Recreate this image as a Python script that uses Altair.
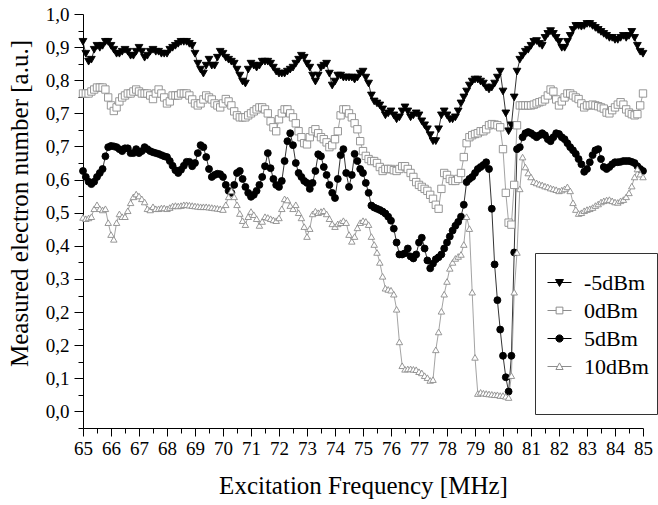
import altair as alt
import pandas as pd

FONT = "Liberation Serif"

SERIES = ["-5dBm", "0dBm", "5dBm", "10dBm"]
STROKES = ["#000000", "#8c8c8c", "#000000", "#8c8c8c"]
FILLS = ["#000000", "#ffffff", "#000000", "#ffffff"]
SHAPES = ["triangle-down", "square", "circle", "triangle-up"]
SIZES = [60, 42, 55, 58]
LEGEND_PATHS = [
    "M-1,0H1M-0.33,-0.25L0.33,-0.25L0,0.33Z",
    "M-1,0H-0.28M0.28,0H1M-0.28,-0.28H0.28V0.28H-0.28Z",
    "M-1,0H1M-0.3,0A0.3,0.3,0,1,1,0.3,0A0.3,0.3,0,1,1,-0.3,0Z",
    "M-1,0H-0.164M0.164,0H1M0,-0.3L0.3,0.25L-0.3,0.25Z",
]

FREQ = [round(65 + 0.1 * i, 1) for i in range(201)]

M5DBM = [
    0.93, 0.90, 0.88, 0.885, 0.91, 0.92, 0.915, 0.92, 0.93, 0.93,
    0.92, 0.91, 0.90, 0.90, 0.905, 0.91, 0.905, 0.895, 0.895, 0.905,
    0.915, 0.905, 0.89, 0.895, 0.905, 0.91, 0.905, 0.905, 0.90, 0.90,
    0.90, 0.91, 0.915, 0.92, 0.925, 0.93, 0.93, 0.93, 0.925, 0.92,
    0.90, 0.875, 0.86, 0.85, 0.87, 0.885, 0.87, 0.87, 0.89, 0.905,
    0.90, 0.89, 0.885, 0.88, 0.875, 0.86, 0.845, 0.83, 0.825, 0.86,
    0.875, 0.87, 0.865, 0.87, 0.88, 0.88, 0.88, 0.875, 0.865, 0.855,
    0.85, 0.85, 0.85, 0.855, 0.86, 0.865, 0.875, 0.885, 0.895, 0.89,
    0.875, 0.865, 0.845, 0.83, 0.845, 0.865, 0.87, 0.875, 0.85, 0.82,
    0.83, 0.845, 0.845, 0.84, 0.84, 0.84, 0.84, 0.835, 0.84, 0.85,
    0.855, 0.84, 0.825, 0.795, 0.78, 0.775, 0.77, 0.76, 0.745, 0.75,
    0.755, 0.745, 0.735, 0.74, 0.755, 0.765, 0.755, 0.74, 0.745, 0.75,
    0.745, 0.73, 0.72, 0.71, 0.695, 0.68, 0.68, 0.71, 0.745, 0.755,
    0.745, 0.735, 0.735, 0.74, 0.755, 0.775, 0.79, 0.805, 0.82, 0.83,
    0.835, 0.835, 0.83, 0.825, 0.815, 0.81, 0.815, 0.825, 0.84, 0.855,
    0.805, 0.75, 0.705, 0.72, 0.79, 0.855, 0.885, 0.895, 0.905, 0.91,
    0.92, 0.93, 0.932, 0.925, 0.92, 0.94, 0.95, 0.957, 0.95, 0.94,
    0.93, 0.915, 0.915, 0.93, 0.945, 0.96, 0.97, 0.97, 0.968, 0.97,
    0.975, 0.975, 0.97, 0.965, 0.96, 0.955, 0.95, 0.945, 0.94, 0.94,
    0.935, 0.935, 0.94, 0.945, 0.94, 0.945, 0.955, 0.94, 0.92, 0.905,
    0.90,
]

P0DBM = [
    0.80, 0.80, 0.80, 0.805, 0.81, 0.815, 0.815, 0.815, 0.81, 0.79,
    0.77, 0.756, 0.765, 0.78, 0.79, 0.795, 0.80, 0.80, 0.805, 0.81,
    0.805, 0.80, 0.80, 0.80, 0.795, 0.786, 0.80, 0.81, 0.80, 0.79,
    0.775, 0.78, 0.795, 0.795, 0.795, 0.80, 0.80, 0.80, 0.795, 0.785,
    0.775, 0.77, 0.775, 0.785, 0.795, 0.79, 0.785, 0.775, 0.77, 0.765,
    0.775, 0.786, 0.78, 0.77, 0.755, 0.745, 0.74, 0.74, 0.74, 0.745,
    0.75, 0.755, 0.76, 0.765, 0.765, 0.76, 0.75, 0.73, 0.715, 0.705,
    0.735, 0.75, 0.76, 0.76, 0.75, 0.74, 0.725, 0.705, 0.69, 0.675,
    0.672, 0.69, 0.705, 0.71, 0.70, 0.69, 0.685, 0.677, 0.665, 0.67,
    0.685, 0.705, 0.745, 0.76, 0.76, 0.75, 0.74, 0.725, 0.71, 0.68,
    0.655, 0.643, 0.635, 0.63, 0.63, 0.625, 0.615, 0.605, 0.61, 0.61,
    0.61, 0.607, 0.605, 0.61, 0.617, 0.617, 0.61, 0.60, 0.59, 0.577,
    0.57, 0.565, 0.56, 0.555, 0.545, 0.535, 0.52, 0.51, 0.56, 0.60,
    0.595, 0.585, 0.58, 0.58, 0.585, 0.60, 0.64, 0.675, 0.69, 0.695,
    0.698, 0.70, 0.705, 0.705, 0.71, 0.72, 0.723, 0.722, 0.72, 0.715,
    0.66, 0.55, 0.475, 0.47, 0.57, 0.72, 0.77, 0.77, 0.77, 0.77,
    0.77, 0.772, 0.775, 0.778, 0.78, 0.785, 0.795, 0.81, 0.805, 0.785,
    0.77, 0.78, 0.79, 0.80, 0.80, 0.795, 0.79, 0.786, 0.775, 0.765,
    0.77, 0.77, 0.772, 0.77, 0.768, 0.765, 0.762, 0.752, 0.75, 0.758,
    0.765, 0.772, 0.778, 0.772, 0.76, 0.752, 0.748, 0.745, 0.748, 0.77,
    0.80,
]

P5DBM = [
    0.605, 0.59, 0.578, 0.572, 0.578, 0.59, 0.60, 0.61, 0.642, 0.665,
    0.668, 0.667, 0.665, 0.66, 0.655, 0.662, 0.662, 0.65, 0.65, 0.66,
    0.65, 0.655, 0.665, 0.66, 0.655, 0.652, 0.65, 0.648, 0.645, 0.642,
    0.64, 0.63, 0.618, 0.607, 0.60, 0.608, 0.618, 0.628, 0.628, 0.617,
    0.625, 0.65, 0.67, 0.665, 0.64, 0.61, 0.59, 0.595, 0.598, 0.597,
    0.59, 0.57, 0.555, 0.55, 0.57, 0.60, 0.605, 0.585, 0.565, 0.55,
    0.54, 0.545, 0.555, 0.57, 0.59, 0.617, 0.65, 0.612, 0.585, 0.57,
    0.565, 0.58, 0.63, 0.68, 0.70, 0.67, 0.625, 0.60, 0.59, 0.58,
    0.575, 0.56, 0.575, 0.605, 0.647, 0.642, 0.615, 0.595, 0.57, 0.55,
    0.537, 0.585, 0.645, 0.66, 0.60, 0.565, 0.595, 0.648, 0.63, 0.61,
    0.60, 0.575, 0.55, 0.518, 0.513, 0.51, 0.507, 0.503, 0.498, 0.49,
    0.48, 0.46, 0.425, 0.395, 0.395, 0.398, 0.41, 0.39, 0.385, 0.395,
    0.425, 0.437, 0.41, 0.38, 0.36, 0.372, 0.383, 0.388, 0.395, 0.41,
    0.425, 0.44, 0.455, 0.467, 0.477, 0.49, 0.52, 0.577, 0.585, 0.59,
    0.60, 0.61, 0.615, 0.62, 0.627, 0.61, 0.51, 0.37, 0.28, 0.206,
    0.14, 0.086, 0.05, 0.14, 0.40, 0.66, 0.665, 0.69, 0.70, 0.703,
    0.70, 0.695, 0.69, 0.695, 0.70, 0.695, 0.685, 0.68, 0.69, 0.70,
    0.698, 0.69, 0.685, 0.675, 0.665, 0.657, 0.648, 0.635, 0.622, 0.603,
    0.61, 0.627, 0.645, 0.657, 0.66, 0.635, 0.615, 0.61, 0.615, 0.622,
    0.627, 0.627, 0.628, 0.63, 0.63, 0.63, 0.628, 0.625, 0.617, 0.61,
    0.605,
]

P10DBM = [
    0.488, 0.485, 0.487, 0.49, 0.51, 0.52, 0.51, 0.507, 0.51, 0.475,
    0.445, 0.433, 0.475, 0.497, 0.49, 0.49, 0.505, 0.525, 0.54, 0.547,
    0.542, 0.535, 0.527, 0.51, 0.507, 0.515, 0.51, 0.51, 0.512, 0.512,
    0.51, 0.513, 0.517, 0.518, 0.517, 0.518, 0.52, 0.52, 0.519, 0.518,
    0.517, 0.516, 0.515, 0.515, 0.515, 0.514, 0.513, 0.512, 0.511, 0.51,
    0.508, 0.52, 0.54, 0.555, 0.54, 0.52, 0.498, 0.48, 0.47, 0.49,
    0.503, 0.495, 0.485, 0.468, 0.478, 0.49, 0.488, 0.485, 0.482, 0.48,
    0.487, 0.51, 0.535, 0.532, 0.518, 0.51, 0.52, 0.50, 0.487, 0.465,
    0.44, 0.46, 0.497, 0.504, 0.50, 0.503, 0.505, 0.497, 0.485, 0.472,
    0.465, 0.472, 0.475, 0.48, 0.475, 0.445, 0.428, 0.44, 0.462, 0.475,
    0.48, 0.478, 0.47, 0.44, 0.42, 0.40, 0.375, 0.34, 0.31, 0.307,
    0.305, 0.295, 0.257, 0.175, 0.115, 0.106, 0.107, 0.107, 0.106, 0.105,
    0.10, 0.097, 0.09, 0.085, 0.078, 0.08, 0.155, 0.20, 0.252, 0.295,
    0.327, 0.36, 0.375, 0.385, 0.39, 0.395, 0.42, 0.49, 0.46, 0.30,
    0.136, 0.045, 0.048, 0.046, 0.045, 0.044, 0.043, 0.042, 0.042, 0.04,
    0.04, 0.038, 0.035, 0.09, 0.30, 0.40, 0.56, 0.64, 0.615, 0.60,
    0.59, 0.578, 0.575, 0.572, 0.57, 0.567, 0.565, 0.562, 0.56, 0.558,
    0.555, 0.557, 0.56, 0.565, 0.555, 0.525, 0.508, 0.498, 0.50, 0.505,
    0.508, 0.51, 0.513, 0.518, 0.522, 0.527, 0.53, 0.532, 0.533, 0.53,
    0.527, 0.526, 0.53, 0.533, 0.54, 0.55, 0.567, 0.59, 0.61, 0.597,
    0.59,
]

X_MAJOR = list(range(65, 86))
X_MINOR = [v + 0.5 for v in range(65, 85)]
Y_LABELS = ["0,0", "0,1", "0,2", "0,2", "0,3", "0,4", "0,5",
            "0,6", "0,7", "0,7", "0,8", "0,9", "1,0"]
Y_MAJOR = [k / 12 for k in range(13)]
Y_MINOR = [(k + 0.5) / 12 for k in range(-1, 12)]

rows = []
for name, vals in zip(SERIES, [M5DBM, P0DBM, P5DBM, P10DBM]):
    for f, v in zip(FREQ, vals):
        rows.append({"freq": f, "value": v, "series": name})
df = pd.DataFrame(rows)

xs = alt.Scale(domain=[65, 85], nice=False, zero=False)
ys = alt.Scale(domain=[-1 / 24, 1.0], nice=False, zero=False)

label_expr = "[" + ",".join("'" + s + "'" for s in Y_LABELS) + "][round(datum.value*12)]"

x_major = alt.Axis(values=X_MAJOR, format="d", orient="bottom", grid=False,
                   tickSize=8, tickColor="black", domainColor="black",
                   labelFont=FONT, labelFontSize=19, labelColor="black",
                   labelPadding=3, labelFlush=False, labelOverlap=False,
                   title="Excitation Frequency [MHz]", titleFont=FONT,
                   titleFontSize=25, titleFontWeight="normal", titleColor="black",
                   titleBaseline="alphabetic", titleY=65)
y_major = alt.Axis(values=Y_MAJOR, labelExpr=label_expr, orient="left", grid=False,
                   tickSize=9, tickColor="black", domainColor="black",
                   labelFont=FONT, labelFontSize=19, labelColor="black",
                   labelPadding=5, labelFlush=False, labelOverlap=False,
                   title="Measured electron number [a.u.]", titleFont=FONT,
                   titleFontSize=25, titleFontWeight="normal", titleColor="black",
                   titleBaseline="alphabetic", titleAngle=270, titleX=-56, titleY=189)
x_minor = alt.Axis(values=X_MINOR, orient="bottom", labels=False, domain=False,
                   grid=False, tickSize=5, tickColor="black", title=None)
y_minor = alt.Axis(values=Y_MINOR, orient="left", labels=False, domain=False,
                   grid=False, tickSize=5, tickColor="black", title=None)

lines = alt.Chart(df).mark_line(strokeWidth=0.8).encode(
    x=alt.X("freq:Q", scale=xs, axis=x_major),
    y=alt.Y("value:Q", scale=ys, axis=y_major),
    stroke=alt.Stroke("series:N", scale=alt.Scale(domain=SERIES, range=STROKES), legend=None),
)

points = alt.Chart(df).mark_point(opacity=1, strokeWidth=0.9).encode(
    x=alt.X("freq:Q", scale=xs, axis=None),
    y=alt.Y("value:Q", scale=ys, axis=None),
    stroke=alt.Stroke("series:N", scale=alt.Scale(domain=SERIES, range=STROKES), legend=None),
    fill=alt.Fill("series:N", scale=alt.Scale(domain=SERIES, range=FILLS), legend=None),
    shape=alt.Shape("series:N", scale=alt.Scale(domain=SERIES, range=SHAPES), legend=None),
    size=alt.Size("series:N", scale=alt.Scale(domain=SERIES, range=SIZES), legend=None),
)

minor = alt.Chart(df).mark_point(opacity=0).encode(
    x=alt.X("freq:Q", scale=xs, axis=x_minor),
    y=alt.Y("value:Q", scale=ys, axis=y_minor),
).transform_filter("false")

LEG_DOMAIN = SERIES + [" "]
leg = alt.Legend(orient="none", legendX=452, legendY=239, title=" ",
                 titleFontSize=6, titlePadding=3, titleFont=FONT,
                 strokeColor="#333333",
                 padding=8, rowPadding=4, symbolSize=576, symbolStrokeWidth=1,
                 symbolOffset=4, labelOffset=12, labelFont=FONT, labelFontSize=22,
                 labelColor="black", symbolOpacity=1, fillColor="white")

legend_layer = alt.Chart(pd.DataFrame({"series": SERIES})).mark_point(opacity=1).encode(
    stroke=alt.Stroke("series:N", scale=alt.Scale(domain=LEG_DOMAIN, range=STROKES + ["#ffffff"]), legend=leg),
    fill=alt.Fill("series:N", scale=alt.Scale(domain=LEG_DOMAIN, range=FILLS + ["#ffffff"]), legend=leg),
    shape=alt.Shape("series:N", scale=alt.Scale(domain=LEG_DOMAIN, range=LEGEND_PATHS + ["M0,0"]), legend=leg),
).transform_filter("false")

chart = alt.layer(lines, points, minor, legend_layer).resolve_scale(
    stroke="independent", fill="independent", shape="independent", size="independent"
).resolve_axis(
    x="independent", y="independent"
).properties(
    width=560, height=414,
    padding={"left": 83, "top": 14, "right": 15, "bottom": 77},
    autosize=alt.AutoSizeParams(type="none"),
    background="white",
).configure(
    font=FONT
).configure_axis(
    labelFont=FONT, titleFont=FONT
).configure_legend(
    labelFont=FONT, titleFont=FONT
).configure_view(stroke=None)

chart.save("out.html", embed_options={"renderer": "svg", "actions": False})
